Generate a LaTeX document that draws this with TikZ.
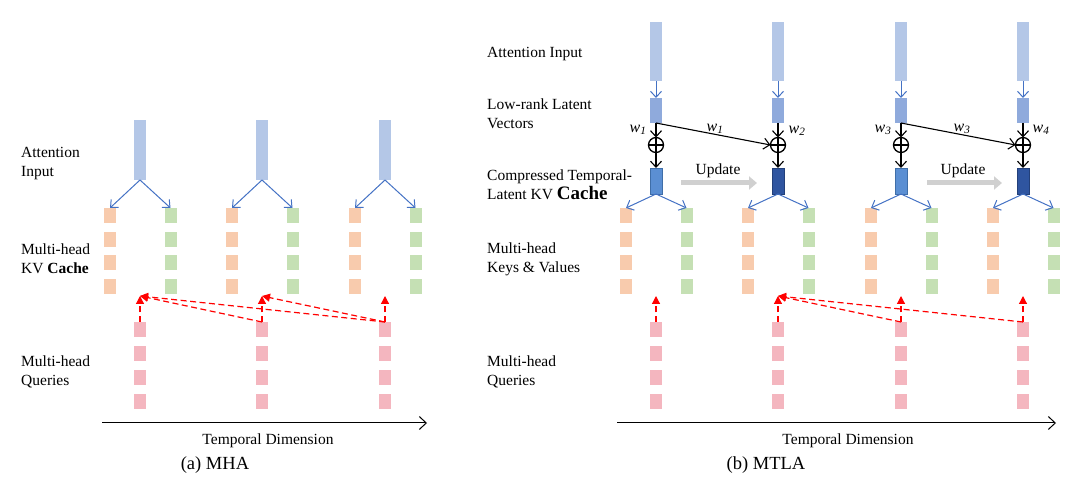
\documentclass[tikz,border=0pt]{standalone}
\usepackage{fontspec}
\setmainfont{Liberation Serif}
\usetikzlibrary{arrows.meta}
\definecolor{attc}{HTML}{B4C7E7}
\definecolor{latc}{HTML}{8FAADC}
\definecolor{cacheA}{HTML}{5B8FD3}
\definecolor{cacheAb}{HTML}{3F6EA8}
\definecolor{cacheB}{HTML}{2F55A0}
\definecolor{cacheBb}{HTML}{23407A}
\definecolor{kc}{HTML}{F8CBAD}
\definecolor{vc}{HTML}{C5E0B4}
\definecolor{qc}{HTML}{F4B6BF}
\definecolor{blc}{HTML}{4472C4}
\definecolor{updc}{HTML}{D0D0D0}
\begin{document}
\begin{tikzpicture}[x=1pt,y=-1pt,
  box/.style={rectangle, draw=none, inner sep=0pt, outer sep=0pt},
  attbar/.style={box, fill=attc, minimum width=12pt, minimum height=60pt},
  latbar/.style={box, fill=latc, minimum width=12pt, minimum height=25pt},
  cacheone/.style={box, fill=cacheA, draw=cacheAb, line width=0.8pt, minimum width=12pt, minimum height=26pt},
  cachetwo/.style={box, fill=cacheB, draw=cacheBb, line width=0.8pt, minimum width=12pt, minimum height=26pt},
  ksq/.style={box, fill=kc, minimum width=12pt, minimum height=15pt},
  vsq/.style={box, fill=vc, minimum width=12pt, minimum height=15pt},
  qsq/.style={box, fill=qc, minimum width=12pt, minimum height=15pt},
  oplusnode/.style={circle, draw=black, line width=1.3pt, minimum size=15pt, inner sep=0pt, outer sep=0pt},
  bluearr/.style={draw=blc, line width=1pt, -{Straight Barb[length=6pt,width=11pt]}},
  blackarr/.style={draw=black, line width=1.1pt, -{Straight Barb[length=6pt,width=11pt]}},
  redarr/.style={draw=red, line width=1.2pt, dash pattern=on 6pt off 3.5pt, -{Triangle[length=8pt,width=8pt]}},
  updarr/.style={draw=updc, line width=5pt, -{Triangle[length=8pt,width=13pt]}},
  axisarr/.style={draw=black, line width=1pt, -{Straight Barb[length=7pt,width=13pt]}},
  lab/.style={font=\fontsize{15.5}{19}\selectfont, align=left, anchor=west, inner sep=0pt},
  txt/.style={font=\fontsize{15.5}{19}\selectfont, inner sep=0pt},
  wlab/.style={font=\fontsize{16}{19}\selectfont\itshape, inner sep=0pt},
  captxt/.style={font=\fontsize{18.5}{22}\selectfont, inner sep=0pt}
]
\useasboundingbox (0,0) rectangle (1080,486);

% ================= (a) MHA =================
\node[lab] (laIn) at (21,163.5) {Attention\\Input};
\node[lab] (laKV) at (21,259) {Multi-head\\KV \textbf{Cache}};
\node[lab] (laQ) at (21,372) {Multi-head\\Queries};

\foreach \i/\x in {1/140,2/262,3/385} {
  \node[attbar] (a\i) at (\x,150) {};
  \foreach \r in {1,2,3,4} {
    \node[ksq] (ak\i\r) at (\x-30,{215.5+23.7*(\r-1)}) {};
    \node[vsq] (av\i\r) at (\x+30.5,{215.5+23.7*(\r-1)}) {};
    \node[qsq] (aq\i\r) at (\x,{329.5+24*(\r-1)}) {};
  }
  \coordinate (at\i) at (\x,296);
  \draw[bluearr] (a\i.south) -- (ak\i1.north);
  \draw[bluearr] (a\i.south) -- (av\i1.north);
  \draw[redarr] (aq\i1.north) -- (at\i);
}
\draw[redarr] (aq21.north) -- (at1);
\draw[redarr] (aq31.north) -- (at1);
\draw[redarr] (aq31.north) -- (at2);

\coordinate (ax0) at (102,423);
\coordinate (ax1) at (427,423);
\draw[axisarr] (ax0) -- (ax1);
\node[txt] (atd) at (268,441) {Temporal Dimension};
\node[captxt] (acap) at (215,465) {(a) MHA};

% ================= (b) MTLA =================
\node[lab] (lbIn) at (487,54) {Attention Input};
\node[lab] (lbLat) at (487,114) {Low-rank Latent\\Vectors};
\node[lab] (lbC) at (487,184.5) {Compressed Temporal-\\Latent KV {\bfseries\fontsize{19}{19}\selectfont Cache}};
\node[lab] (lbKV) at (487,259) {Multi-head\\Keys \& Values};
\node[lab] (lbQ) at (487,372) {Multi-head\\Queries};

\foreach \i/\x/\cs in {1/656/cacheone,2/778/cachetwo,3/901/cacheone,4/1023/cachetwo} {
  \node[attbar, minimum height=59pt] (b\i) at (\x,51.5) {};
  \node[latbar] (l\i) at (\x,110.5) {};
  \node[oplusnode] (p\i) at (\x,145) {};
  \draw[line width=1.3pt] (p\i.north) -- (p\i.south) (p\i.west) -- (p\i.east);
  \node[\cs] (c\i) at (\x,181) {};
  \foreach \r in {1,2,3,4} {
    \node[ksq] (bk\i\r) at (\x-30,{215.5+23.7*(\r-1)}) {};
    \node[vsq] (bv\i\r) at (\x+30.5,{215.5+23.7*(\r-1)}) {};
    \node[qsq] (bq\i\r) at (\x,{329.5+24*(\r-1)}) {};
  }
  \coordinate (bt\i) at (\x,296);
  \draw[bluearr] (b\i.south) -- (l\i.north);
  \draw[blackarr] (l\i.south) -- (p\i.north);
  \draw[blackarr] (p\i.south) -- (c\i.north);
  \draw[bluearr] (c\i.south) -- (bk\i1.north);
  \draw[bluearr] (c\i.south) -- (bv\i1.north);
  \draw[redarr] (bq\i1.north) -- (bt\i);
}
\draw[blackarr] (l1.south) -- (p2.west);
\draw[blackarr] (l3.south) -- (p4.west);
\draw[redarr] (bq31.north) -- (bt2);
\draw[redarr] (bq41.north) -- (bt2);

\node[wlab] (w1a) at (638,130) {w\textsubscript{1}};
\node[wlab] (w1b) at (715,129) {w\textsubscript{1}};
\node[wlab] (w2) at (797,131) {w\textsubscript{2}};
\node[wlab] (w3a) at (883,130) {w\textsubscript{3}};
\node[wlab] (w3b) at (962,129) {w\textsubscript{3}};
\node[wlab] (w4) at (1041,130) {w\textsubscript{4}};

\coordinate (u1s) at (681,183);
\coordinate (u1e) at (757,183);
\coordinate (u2s) at (927,183);
\coordinate (u2e) at (1002,183);
\draw[updarr] (u1s) -- (u1e);
\draw[updarr] (u2s) -- (u2e);
\node[txt] (up1) at (718,171) {Update};
\node[txt] (up2) at (963,171) {Update};

\coordinate (bx0) at (617,423);
\coordinate (bx1) at (1056,423);
\draw[axisarr] (bx0) -- (bx1);
\node[txt] (btd) at (848,441) {Temporal Dimension};
\node[captxt] (bcap) at (766,465) {(b) MTLA};
\end{tikzpicture}
\end{document}
